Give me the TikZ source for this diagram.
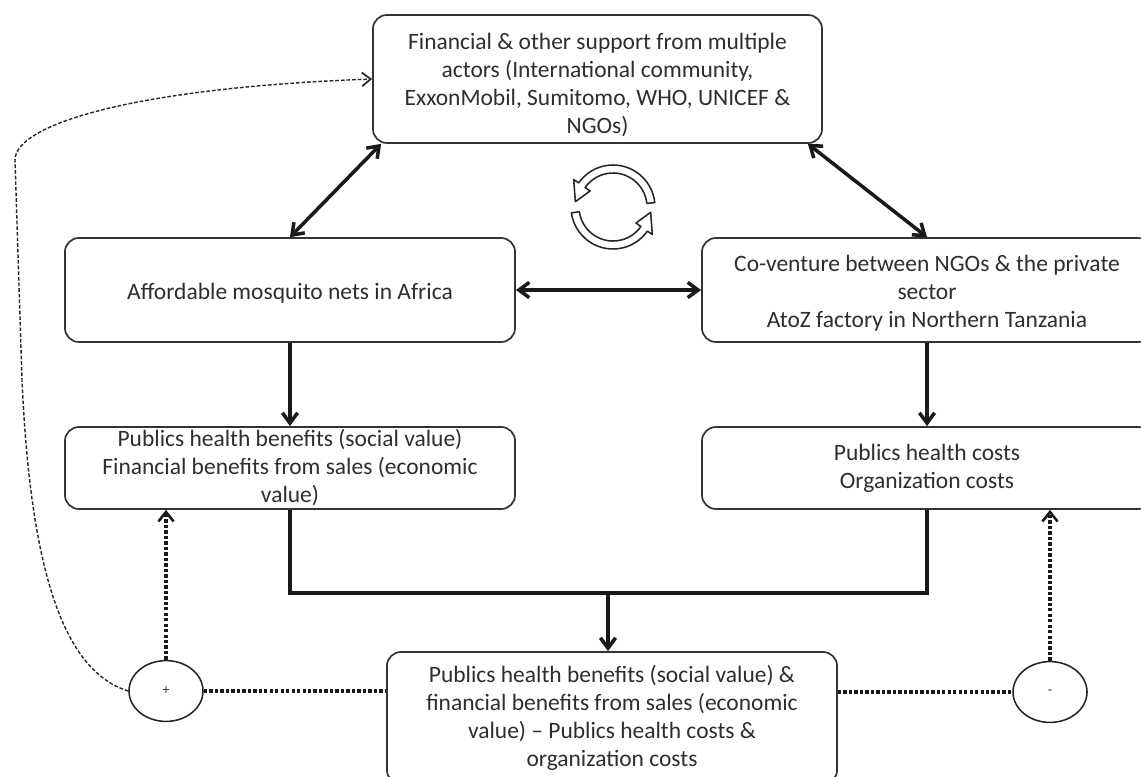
\documentclass[tikz,border=0pt]{standalone}
\usepackage{fontspec}
\setmainfont{Carlito}
\usetikzlibrary{arrows.meta,calc,shapes.geometric}
\newcommand{\cyclearrow}[3]{%
  \draw[cyclebody] (#1:42) arc[start angle=#1, end angle=#2, radius=42]
    -- (#2:48) -- (#3:38) -- (#2:28) -- (#2:34)
    arc[start angle=#2, end angle=#1, radius=34] -- cycle;}
\newcommand{\lowerby}[1]{\rule{0pt}{#1}}

\begin{document}
\begin{tikzpicture}[x=0.025cm, y=-0.025cm,
    box/.style={draw=black!80, line width=1.2pt, rounded corners=0.35cm, align=center,
      text=black!82, font=\fontsize{16.7}{19.9}\selectfont, inner sep=0pt,
      minimum width=11.25cm},
    sign/.style={ellipse, draw=black!85, line width=1.1pt, minimum width=1.85cm,
      minimum height=1.52cm, inner sep=0pt, font=\normalsize, text=black!80},
    link/.style={draw, line width=2.5pt, black!90},
    twoway/.style={link, {Straight Barb[length=2.6mm,width=3.8mm]}-{Straight Barb[length=2.6mm,width=3.8mm]}},
    oneway/.style={link, -{Straight Barb[length=2.6mm,width=3.8mm]}},
    dotline/.style={draw, black!90, line width=2.6pt, dash pattern=on 2.4pt off 1.5pt},
    dotarrow/.style={dotline, -{Straight Barb[length=2.4mm,width=3.8mm,line width=1.8pt]}},
    dashback/.style={draw, black!85, line width=1pt, dash pattern=on 2.6pt off 1.4pt,
      -{Straight Barb[length=2.2mm,width=3.4mm,line width=1.2pt]}},
    cyclebody/.style={draw=black!85, line width=1.1pt, fill=white, line join=round}]
    \clip (0,0) rectangle (1141,776);
    \fill[white] (0,0) rectangle (1141,776);

    \node[box, minimum width=11.225cm, minimum height=3.2cm] (1) at (597.5,79) {\lowerby{0.69cm}Financial \& other support from multiple\\actors (International community,\\ExxonMobil, Sumitomo, WHO, UNICEF \&\\NGOs)};
    \node[box, minimum height=2.6cm] (2) at (290,290) {\lowerby{0.55cm}Affordable mosquito nets in Africa};
    \node[box, minimum height=2.6cm] (3) at (927,290) {\lowerby{0.55cm}Co-venture between NGOs \& the private\\sector\\AtoZ factory in Northern Tanzania};
    \node[box, minimum height=2.05cm] (4) at (290,468) {Publics health benefits (social value)\\Financial benefits from sales (economic\\value)};
    \node[box, minimum height=2.05cm] (5) at (927,468) {Publics health costs\\Organization costs};
    \node[box, minimum height=3.3cm] (6) at (612,718) {Publics health benefits (social value) \&\\financial benefits from sales (economic\\value) -- Publics health costs \&\\organization costs};
    \node[sign] (p) at (166,691) {+};
    \node[sign] (m) at (1050,692) {-};
    \coordinate (j) at (608,593);

    \path
    ($(1.south west)+(9,0)$) edge[twoway] (2.north)
    ($(1.south east)+(-15,0)$) edge[twoway] (3.north)
    (2.east) edge[twoway] (3.west)
    (2.south) edge[oneway] (4.north)
    (3.south) edge[oneway] (5.north);

    \draw[link] (4.south) |- (j) -| (5.south);
    \draw[oneway] (j) -- (6.north -| j);

    \path
    (p.north) edge[dotarrow] (p |- 4.south)
    (m.north) edge[dotarrow] (m |- 5.south)
    (p.east) edge[dotline] (6.west |- p)
    (6.east |- m) edge[dotline] (m.west);

    \draw[dashback] (p.west) .. controls (60,670) and (30,560) .. (22,380) -- (15,160)
      .. controls (15,125) and (130,88) .. (1.west);

    \begin{scope}[shift={(613,207)}, y=0.025cm]
      \cyclearrow{6}{145}{172}
      \cyclearrow{188}{325}{352}
    \end{scope}
\end{tikzpicture}
\end{document}
